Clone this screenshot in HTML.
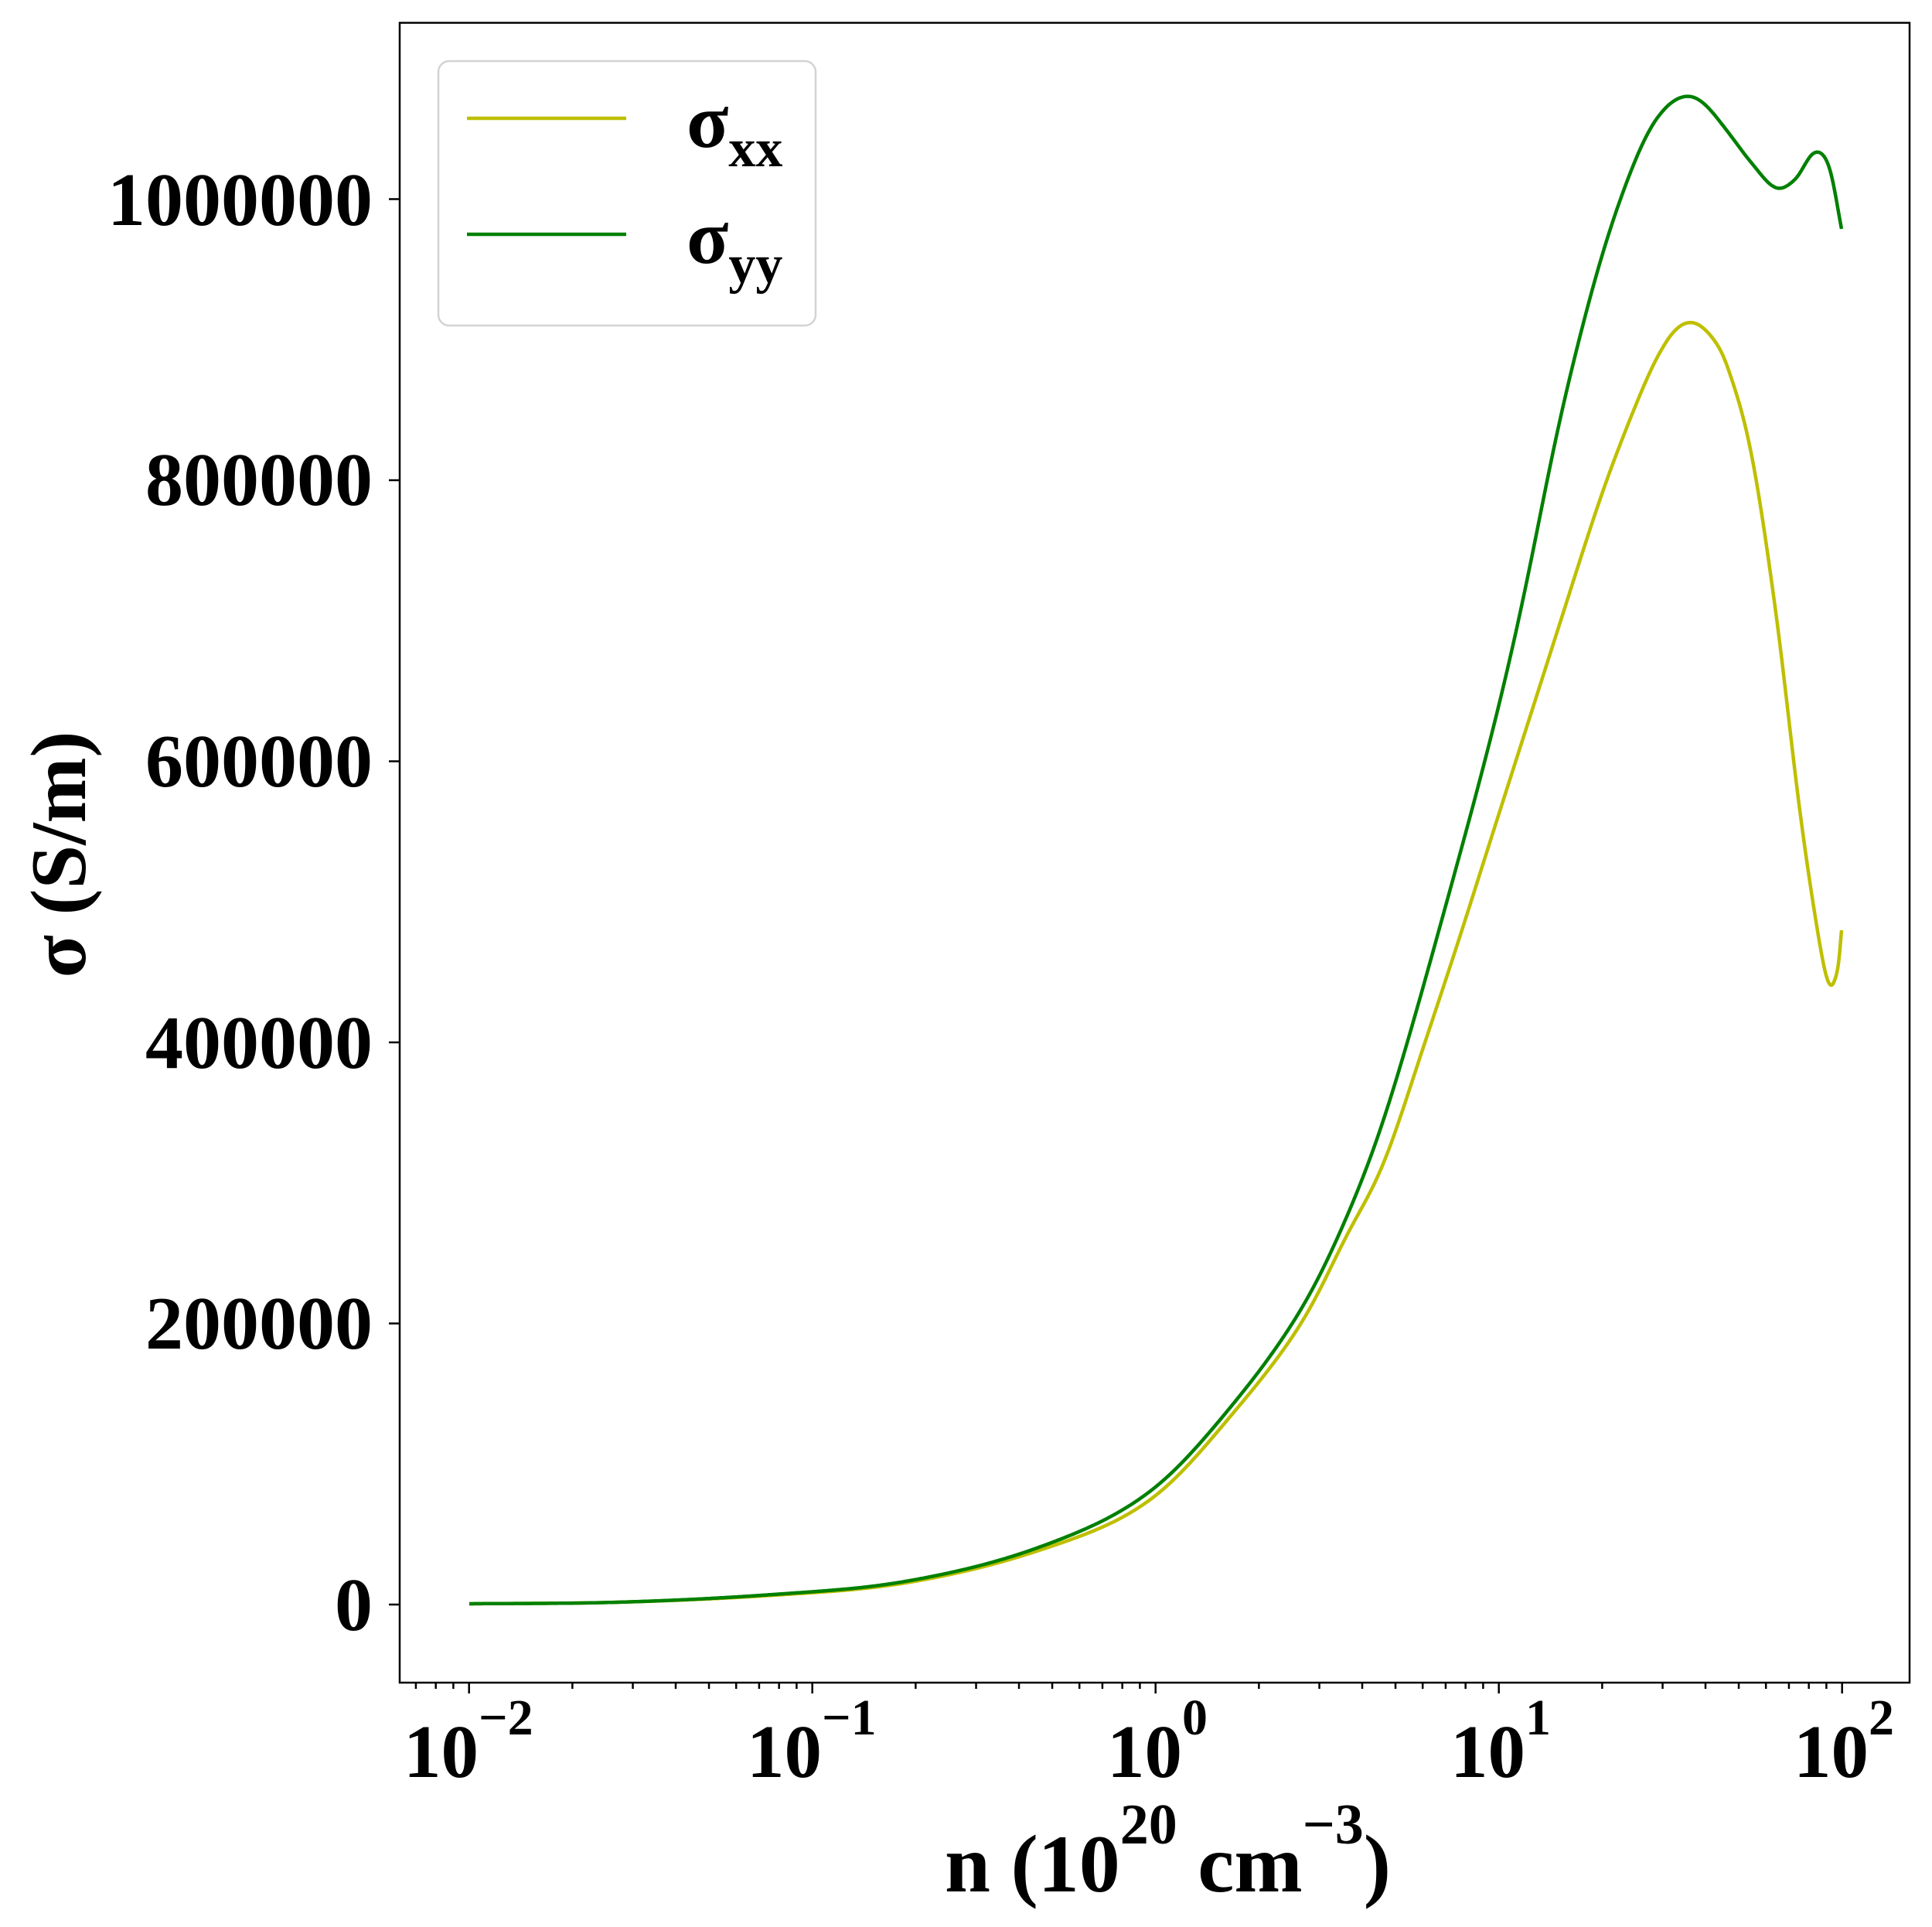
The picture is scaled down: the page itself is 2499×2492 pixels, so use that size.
<!DOCTYPE html>
<html><head><meta charset="utf-8"><style>
html,body{margin:0;padding:0;background:#fff;}
svg{display:block;}
text{font-family:"Liberation Serif",serif;font-weight:bold;fill:#000;}
</style></head><body>
<svg id="s" width="2499" height="2492" viewBox="0 0 2499 2492" xmlns="http://www.w3.org/2000/svg">
<rect width="2499" height="2492" fill="#fff"/>
<g id="ticks" stroke="#000" stroke-width="2.5"></g>
<path id="yy" fill="none" stroke="#bfbf00" stroke-width="4.5" stroke-linejoin="round"/>
<path id="gg" fill="none" stroke="#008000" stroke-width="4.5" stroke-linejoin="round"/>
<rect x="517" y="29.5" width="1953" height="2146.5" fill="none" stroke="#000" stroke-width="2.5"/>
<g font-size="98" text-anchor="end">
<text x="482" y="291">1000000</text>
<text x="482" y="653">800000</text>
<text x="482" y="1017">600000</text>
<text x="482" y="1381">400000</text>
<text x="482" y="1744">200000</text>
<text x="482" y="2108">0</text>
</g>
<g font-size="97">
<text x="522" y="2298">10<tspan font-size="66" dy="-55">−2</tspan></text>
<text x="966" y="2298">10<tspan font-size="66" dy="-55">−1</tspan></text>
<text x="1432" y="2298">10<tspan font-size="66" dy="-55">0</tspan></text>
<text x="1876" y="2298">10<tspan font-size="66" dy="-55">1</tspan></text>
<text x="2320" y="2298">10<tspan font-size="66" dy="-55">2</tspan></text>
</g>
<text x="1222" y="2446" font-size="106">n (10<tspan font-size="74" dy="-62">20</tspan><tspan dy="62"> cm</tspan><tspan font-size="74" dy="-62">−3</tspan><tspan dy="62">)</tspan></text>
<text transform="translate(110,1105) rotate(-90)" font-size="102" text-anchor="middle">σ (S/m)</text>
<rect x="567" y="79" width="488" height="342" rx="14" fill="#fff" fill-opacity="0.8" stroke="#d3d3d3" stroke-width="2.5"/>
<line x1="604" y1="153" x2="810" y2="153" stroke="#bfbf00" stroke-width="4.5"/>
<line x1="604" y1="303" x2="810" y2="303" stroke="#008000" stroke-width="4.5"/>
<text x="888" y="190" font-size="100">σ<tspan font-size="70" dy="25">xx</tspan></text>
<text x="888" y="340" font-size="100">σ<tspan font-size="70" dy="25">yy</tspan></text>
</svg>
<script>
var g=document.getElementById('ticks'),h='';
var x0=1494.7,d=444;
for(var e=-3;e<=2;e++){for(var m=1;m<10;m++){var x=x0+d*(e+Math.log10(m));if(x<517||x>2470)continue;var L=m==1?14:8;h+='<line x1="'+x+'" y1="2176" x2="'+x+'" y2="'+(2176+L)+'"/>';}}
for(var i=0;i<=5;i++){var y=2075-i*363.5;h+='<line x1="503" y1="'+y+'" x2="517" y2="'+y+'"/>';}
g.innerHTML=h;
function cat(p,x){for(var i=0;i<p.length-1;i++){if(x<=p[i+1][0]){var a=p[Math.max(0,i-1)],b=p[i],c=p[i+1],e=p[Math.min(p.length-1,i+2)];var t=(x-b[0])/(c[0]-b[0]);
 var m1=(c[1]-a[1])/(c[0]-a[0])*(c[0]-b[0]),m2=(e[1]-b[1])/(e[0]-b[0])*(c[0]-b[0]);var t2=t*t,t3=t2*t;
 return (2*t3-3*t2+1)*b[1]+(t3-2*t2+t)*m1+(-2*t3+3*t2)*c[1]+(t3-t2)*m2;}}return p[p.length-1][1];}
function build(p,a,b){var xa=p[0][0],xb=p[p.length-1][0],xs=[],ys=[];for(var x=xa;x<xb;x+=1){xs.push(x);ys.push(cat(p,x));}xs.push(xb);ys.push(p[p.length-1][1]);
 var out=[];for(var i=0;i<xs.length;i++){var x=xs[i];var s=x<a?16:(x>b?3:16-13*(x-a)/(b-a));var dl=Math.min(i,xs.length-1-i);s=Math.min(s,dl/3);
 var v=ys[i];if(s>0.5){var w=0,ac=0,R=Math.ceil(3*s);for(var k=-R;k<=R;k++){var j=i+k;var ww=Math.exp(-k*k/(2*s*s));w+=ww;ac+=ww*ys[j];}v=ac/w;}
 out.push([x,v]);}
 var str='M'+out[0][0]+','+out[0][1].toFixed(1);for(var i=1;i<out.length;i++)str+=' L'+out[i][0]+','+out[i][1].toFixed(1);return str;}
var G=[[607,2074],[800,2072],[1000,2062],[1172,2045],[1344,2001],[1488,1929],[1603,1806],[1689,1684],[1746,1565],[1787,1458],[1830,1315],[1870,1171],[1910,1025],[1946,884],[1980,730],[2010,574],[2042,440],[2074,321],[2106,229],[2138,155],[2177,122],[2201,130],[2233,168],[2265,210],[2297,243],[2322,232],[2347,197],[2366,215],[2382,296]];
var Y=[[607,2074],[800,2072],[1000,2063],[1172,2047],[1344,2005],[1488,1940],[1603,1818],[1689,1703],[1746,1588],[1787,1515],[1835,1372],[1883,1228],[1930,1080],[1978,930],[2026,780],[2074,631],[2106,548],[2138,470],[2160,430],[2187,414],[2214,435],[2233,470],[2265,585],[2297,792],[2329,1056],[2355,1228],[2367,1276],[2377,1255],[2382,1203]];
document.getElementById('gg').setAttribute('d',build(G,2150,2260));
document.getElementById('yy').setAttribute('d',build(Y,2150,2240));
</script>
</body></html>
